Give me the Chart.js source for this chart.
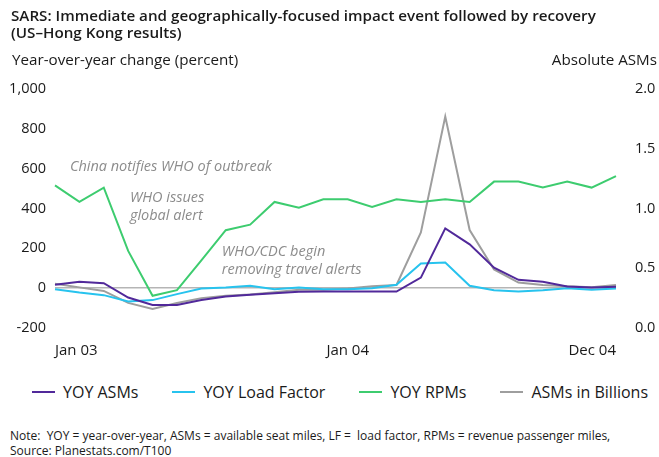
<!DOCTYPE html>
<html>
<head>
<meta charset="utf-8">
<script src="https://cdn.jsdelivr.net/npm/chart.js@4/dist/chart.umd.min.js"></script>
<style>
  html, body { margin: 0; padding: 0; background: #fff; }
  #wrap { position: relative; width: 659px; height: 457px; font-family: "Open Sans", sans-serif; color: #1a1a1a; overflow: hidden; }
  #chartBox { position: absolute; left: 0; top: 0; width: 659px; height: 366px; }
  .txt { position: absolute; white-space: nowrap; }
  #title { left: 11px; top: 7px; font-size: 15.2px; font-weight: 600; line-height: 17px; }
  #yTitle { left: 12px; top: 49px; font-size: 15.2px; }
  #y1Title { right: 2px; top: 49px; font-size: 15.2px; }
  #legend { position: absolute; left: 32px; top: 381px; display: flex; gap: 34px; font-size: 16px; line-height: 22px; }
  #legend .item { display: flex; align-items: center; }
  #legend .swatch { width: 23px; height: 2.5px; margin-right: 8px; }
  #note { left: 10px; top: 428px; font-size: 12px; line-height: 15px; }
</style>
</head>
<body>
<div id="wrap">
  <div id="chartBox"><canvas id="c"></canvas></div>
  <div class="txt" id="title">SARS: Immediate and geographically-focused impact event followed by recovery<br>(US–Hong Kong results)</div>
  <div class="txt" id="yTitle">Year-over-year change (percent)</div>
  <div class="txt" id="y1Title">Absolute ASMs</div>
  <div id="legend"></div>
  <div class="txt" id="note">Note:&nbsp; YOY = year-over-year, ASMs = available seat miles, LF =&nbsp; load factor, RPMs = revenue passenger miles,<br>Source: Planestats.com/T100</div>
</div>
<script>
// Months Jan 2003 – Dec 2004
const months = [
  "Jan 03","Feb 03","Mar 03","Apr 03","May 03","Jun 03","Jul 03","Aug 03","Sep 03","Oct 03","Nov 03","Dec 03",
  "Jan 04","Feb 04","Mar 04","Apr 04","May 04","Jun 04","Jul 04","Aug 04","Sep 04","Oct 04","Nov 04","Dec 04"
];
const shownMonths = ["Jan 03", "Jan 04", "Dec 04"];

// Year-over-year change, percent (left axis)
const yoyAsms = [17, 32, 25, -47, -84, -84, -59, -42, -33, -25, -18, -17,
                 -17, -17, -17, 53, 300, 220, 103, 42, 32, 8, 3, 7];
const yoyLoadFactor = [-5, -22, -35, -67, -60, -30, -2, 3, 12, -5, 3, -5,
                       -5, 0, 17, 124, 129, 12, -10, -17, -10, 0, -8, -2];
const yoyRpms = [516, 433, 505, 187, -38, -10, 140, 291, 319, 433, 404, 446,
                 446, 408, 446, 433, 446, 433, 535, 535, 505, 535, 505, 563];

// Absolute ASMs, billions (right axis)
const asmsBillions = [0.37, 0.34, 0.31, 0.21, 0.16, 0.21, 0.25, 0.27, 0.28, 0.30, 0.32, 0.32,
                      0.33, 0.35, 0.36, 0.80, 1.77, 0.82, 0.49, 0.38, 0.36, 0.35, 0.34, 0.36];

const leftTicks = [-200, 0, 200, 400, 600, 800, 1000];
const rightTicks = [0.0, 0.5, 1.0, 1.5, 2.0];

// Event call-outs: month position and left-axis value of the first line
const events = [
  { lines: ["China notifies WHO of outbreak"], at: 0.61, value: 611 },
  { lines: ["WHO issues", "global alert"], at: 3.07, value: 451 },
  { lines: ["WHO/CDC begin", "removing travel alerts"], at: 6.84, value: 180 }
];

const FONT = "'Open Sans', sans-serif";

const eventLabels = {
  id: "eventLabels",
  afterDatasetsDraw(chart) {
    const { ctx, scales: { x, y } } = chart;
    ctx.save();
    ctx.font = "italic 14.5px " + FONT;
    ctx.fillStyle = "#8c8c8c";
    ctx.textAlign = "left";
    ctx.textBaseline = "middle";
    events.forEach(ev => {
      const px = x.getPixelForValue(ev.at);
      const py = y.getPixelForValue(ev.value);
      ev.lines.forEach((t, i) => ctx.fillText(t, px, py + i * 17.5));
    });
    ctx.restore();
  }
};

const mk = (label, data, color, axis) => ({
  label, data, borderColor: color, backgroundColor: color,
  borderWidth: 2, pointRadius: 0, tension: 0, yAxisID: axis
});

const chart = new Chart(document.getElementById("c"), {
  type: "line",
  data: {
    labels: months,
    datasets: [
      mk("YOY ASMs", yoyAsms, "#51299a", "y"),
      mk("YOY Load Factor", yoyLoadFactor, "#27c3ee", "y"),
      mk("YOY RPMs", yoyRpms, "#3dcc6f", "y"),
      mk("ASMs in Billions", asmsBillions, "#9e9e9e", "y1")
    ]
  },
  options: {
    responsive: true,
    maintainAspectRatio: false,
    animation: false,
    layout: { padding: { top: 89, left: 0, right: 0, bottom: 0 } },
    plugins: {
      title: { display: false },
      tooltip: { enabled: false },
      legend: { display: false }
    },
    scales: {
      x: {
        offset: false,
        grid: { display: false },
        border: { display: false },
        ticks: {
          autoSkip: false,
          maxRotation: 0,
          align: "inner",
          padding: 6,
          font: { family: FONT, size: 15 },
          color: "#1a1a1a",
          callback(v) { const l = months[v]; return shownMonths.includes(l) ? l : null; }
        }
      },
      y: {
        position: "left",
        min: -200, max: 1000,
        afterBuildTicks(s) { s.ticks = leftTicks.map(v => ({ value: v })); },
        afterFit(s) { s.width = 55; },
        grid: {
          drawTicks: false,
          color: ctx => ctx.tick && ctx.tick.value === 0 ? "#b5b5b5" : "rgba(0,0,0,0)",
          lineWidth: 1.5
        },
        border: { display: false },
        ticks: {
          padding: 9,
          font: { family: FONT, size: 14.5 },
          color: "#1a1a1a",
          callback: v => v.toLocaleString("en-US")
        }
      },
      y1: {
        position: "right",
        min: 0, max: 2,
        afterBuildTicks(s) { s.ticks = rightTicks.map(v => ({ value: v })); },
        afterFit(s) { s.width = 43; },
        grid: { display: false, drawTicks: false },
        border: { display: false },
        ticks: {
          padding: 19,
          font: { family: FONT, size: 14.5 },
          color: "#1a1a1a",
          callback: v => v.toFixed(1)
        }
      }
    }
  },
  plugins: [eventLabels]
});

// Legend row built from the chart's datasets
const legendEl = document.getElementById("legend");
chart.data.datasets.forEach(ds => {
  const item = document.createElement("div");
  item.className = "item";
  const sw = document.createElement("span");
  sw.className = "swatch";
  sw.style.background = ds.borderColor;
  const label = document.createElement("span");
  label.textContent = ds.label;
  item.appendChild(sw);
  item.appendChild(label);
  legendEl.appendChild(item);
});
</script>
</body>
</html>
